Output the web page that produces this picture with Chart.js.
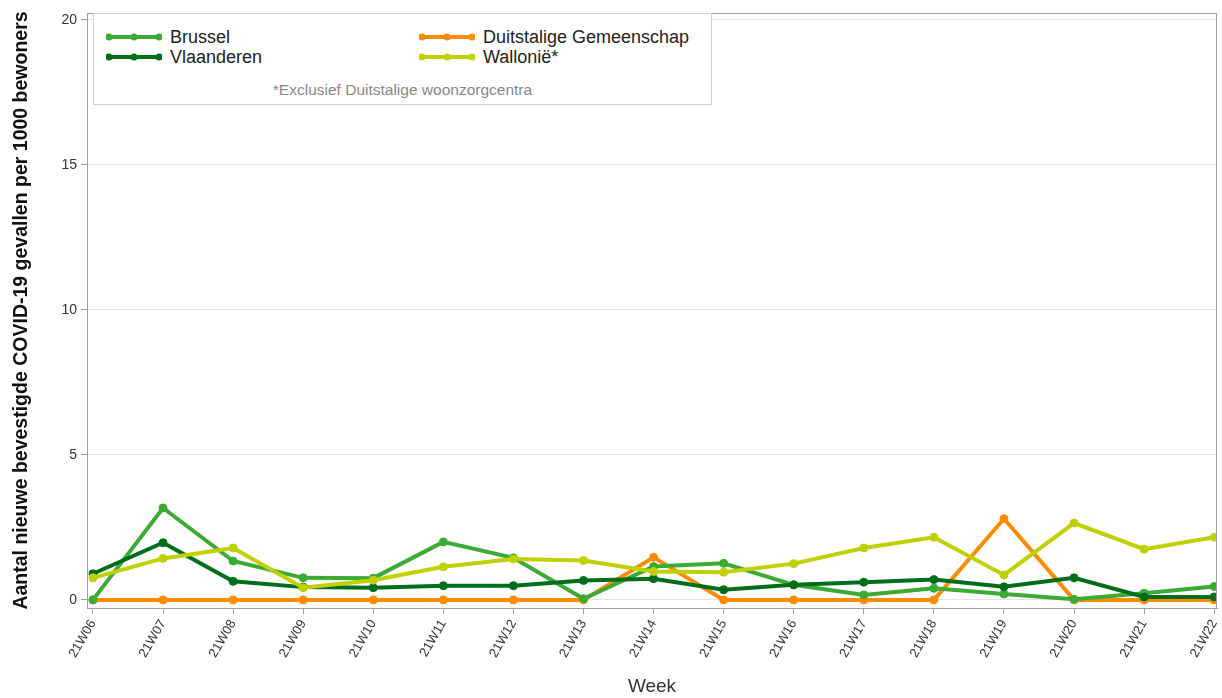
<!DOCTYPE html>
<html>
<head>
<meta charset="utf-8">
<script src="https://cdn.jsdelivr.net/npm/chart.js@4"></script>
<style>
  html, body { margin: 0; padding: 0; background: #fff; }
  #wrap { position: relative; width: 1222px; height: 698px; font-family: "Liberation Sans", Arial, sans-serif; }
  #legend { position: absolute; left: 93px; top: 13px; width: 619px; height: 92px; border: 1px solid #cfcfcf; background: #fff; box-sizing: border-box; }
  .item { position: absolute; height: 20px; font-size: 18px; color: #222; line-height: 20px; }
  .item svg { position: absolute; left: 0; top: 5px; }
  .item span { position: absolute; left: 64px; white-space: nowrap; }
  #note { position: absolute; left: 0; width: 100%; top: 67px; text-align: center; font-size: 15.5px; color: #888; }
</style>
</head>
<body>
<div id="wrap">
  <canvas id="line-chart" width="1222" height="698"></canvas>
  <div id="legend"></div>
</div>
<script>
var weeks = ["21W06","21W07","21W08","21W09","21W10","21W11","21W12","21W13","21W14","21W15","21W16","21W17","21W18","21W19","21W20","21W21","21W22"];
var brussel     = [0, 3.17, 1.34, 0.76, 0.75, 2.0, 1.45, 0.04, 1.15, 1.26, 0.52, 0.17, 0.40, 0.20, 0.02, 0.23, 0.46];
var vlaanderen  = [0.9, 1.97, 0.64, 0.44, 0.42, 0.49, 0.49, 0.67, 0.73, 0.35, 0.52, 0.61, 0.70, 0.45, 0.76, 0.10, 0.10];
var duitstalig  = [0, 0, 0, 0, 0, 0, 0, 0, 1.47, 0, 0, 0, 0, 2.80, 0, 0, 0];
var wallonie    = [0.76, 1.43, 1.79, 0.42, 0.68, 1.14, 1.41, 1.36, 0.98, 0.95, 1.25, 1.79, 2.16, 0.86, 2.65, 1.75, 2.16];
var yTicks = [0, 5, 10, 15, 20];

var series = [
  { label: "Brussel", data: brussel, color: "#3caa35" },
  { label: "Vlaanderen", data: vlaanderen, color: "#006d1b" },
  { label: "Duitstalige Gemeenschap", data: duitstalig, color: "#ff8c00" },
  { label: "Wallonië*", data: wallonie, color: "#c0d000" }
];
// orange at the bottom, wallonie on top
var drawOrder = [2, 0, 1, 3];

function pts(arr) {
  return arr.map(function (v, i) { return { x: i, y: v }; });
}

var boxPlugin = {
  id: "box",
  afterDraw: function (chart) {
    var a = chart.chartArea, c = chart.ctx;
    c.save();
    c.strokeStyle = "#a0a0a0";
    c.lineWidth = 1;
    c.strokeRect(a.left + 0.5, a.top + 0.5, a.right - a.left - 1, a.bottom - a.top);
    c.restore();
  }
};

new Chart(document.getElementById("line-chart"), {
  type: "line",
  data: {
    datasets: drawOrder.map(function (k, n) {
      var s = series[k];
      return {
        label: s.label,
        data: pts(s.data),
        borderColor: s.color,
        backgroundColor: s.color,
        pointBackgroundColor: s.color,
        pointBorderColor: s.color,
        borderWidth: 4,
        pointRadius: 4,
        pointBorderWidth: 1,
        tension: 0,
        fill: false,
        order: 4 - n
      };
    })
  },
  options: {
    responsive: false,
    animation: false,
    layout: { padding: { top: 13, right: 0, left: 0, bottom: 0 } },
    plugins: { legend: { display: false }, tooltip: { enabled: false } },
    scales: {
      x: {
        type: "linear",
        min: -0.085,
        max: 16.04,
        afterFit: function (s) { s.height = 90; s.paddingLeft = 0; s.paddingRight = 0; },
        afterBuildTicks: function (s) { s.ticks = weeks.map(function (w, i) { return { value: i }; }); },
        ticks: {
          maxRotation: 60,
          minRotation: 60,
          autoSkip: false,
          color: "#333",
          font: { family: "Liberation Sans", size: 13 },
          callback: function (v) { return weeks[v]; }
        },
        grid: { drawOnChartArea: false, color: "#a0a0a0", tickLength: 6 },
        border: { color: "#a0a0a0" },
        title: { display: true, text: "Week", color: "#333", font: { family: "Liberation Sans", size: 19 }, padding: { top: 4, bottom: 0 } }
      },
      y: {
        min: -0.28,
        max: 20.24,
        afterFit: function (s) { s.width = 87; },
        afterBuildTicks: function (s) { s.ticks = yTicks.map(function (v) { return { value: v }; }); },
        ticks: { color: "#333", font: { family: "Liberation Sans", size: 14 }, padding: 4 },
        grid: { color: "#e3e3e3", tickColor: "#a0a0a0", tickLength: 6 },
        border: { color: "#a0a0a0" },
        title: { display: true, text: "Aantal nieuwe bevestigde COVID-19 gevallen per 1000 bewoners", color: "#111", font: { family: "Liberation Sans", size: 19.5, weight: "bold" }, padding: { top: 10, bottom: 4 } }
      }
    }
  },
  plugins: [boxPlugin]
});

// legend inside plot box
var legendPos = [
  { left: 12, top: 13 },
  { left: 12, top: 33 },
  { left: 325, top: 13 },
  { left: 325, top: 33 }
];
var legend = document.getElementById("legend");
series.forEach(function (s, i) {
  var d = document.createElement("div");
  d.className = "item";
  d.style.left = legendPos[i].left + "px";
  d.style.top = legendPos[i].top + "px";
  d.innerHTML = '<svg width="56" height="10"><line x1="0" y1="5" x2="56" y2="5" stroke="' + s.color + '" stroke-width="4"/>' +
    [3, 28, 53].map(function (cx) { return '<circle cx="' + cx + '" cy="5" r="3.5" fill="' + s.color + '"/>'; }).join("") +
    '</svg><span>' + s.label + '</span>';
  legend.appendChild(d);
});
var note = document.createElement("div");
note.id = "note";
note.textContent = "*Exclusief Duitstalige woonzorgcentra";
legend.appendChild(note);
</script>
</body>
</html>
